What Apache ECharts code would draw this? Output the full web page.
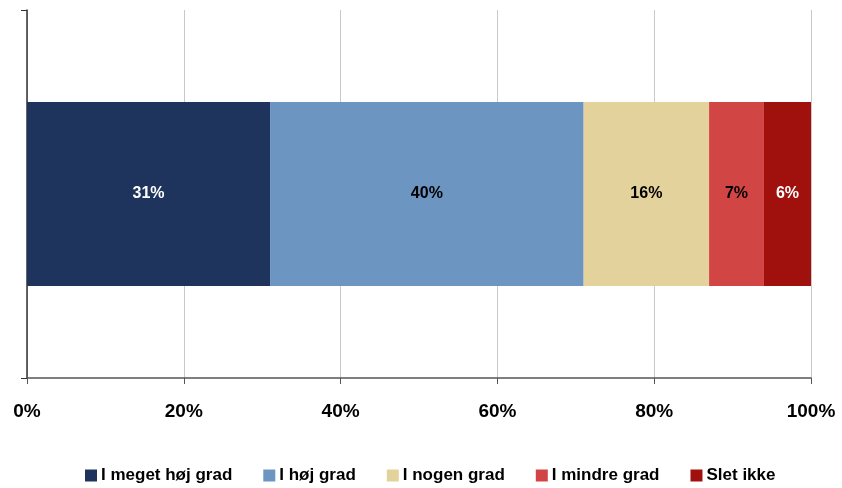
<!DOCTYPE html>
<html>
<head>
<meta charset="utf-8">
<script src="https://cdn.jsdelivr.net/npm/echarts@6/dist/echarts.min.js"></script>
<style>
  html, body { margin: 0; padding: 0; background: #fff; }
  #main { width: 842px; height: 488px; }
</style>
</head>
<body>
<div id="main"></div>
<script>
var myChart = echarts.init(document.getElementById("main"));

var seriesNames = ["I meget høj grad", "I høj grad", "I nogen grad", "I mindre grad", "Slet ikke"];
var values = [31, 40, 16, 7, 6];
var colors = ["#1F345D", "#6C95C1", "#E3D29B", "#D24545", "#A0100C"];
var labelColors = ["#fff", "#000", "#000", "#000", "#fff"];

var series = seriesNames.map(function (name, i) {
  return {
    name: name,
    type: "bar",
    stack: "total",
    barWidth: "50%",
    data: [values[i]],
    itemStyle: { color: colors[i] },
    label: {
      show: true,
      formatter: "{c}%",
      color: labelColors[i],
      fontFamily: "Liberation Sans",
      fontWeight: "bold",
      fontSize: 16
    }
  };
});

var option = {
  animation: false,
  grid: { left: 27, right: 31, top: 10, bottom: 110 },
  legend: {
    top: 462,
    left: 80,
    icon: "rect",
    itemWidth: 12,
    itemHeight: 12,
    itemGap: 31,
    textStyle: {
      fontFamily: "Liberation Sans",
      fontWeight: "bold",
      fontSize: 17,
      color: "#000",
      padding: [0, 0, 0, -1]
    },
    data: seriesNames
  },
  xAxis: {
    type: "value",
    min: 0,
    max: 100,
    interval: 20,
    axisLine: { show: true, lineStyle: { color: "#555", width: 1.5 } },
    axisTick: { show: true, length: 6, lineStyle: { color: "#555" } },
    splitLine: { show: true, lineStyle: { color: "#c8c8c8" } },
    axisLabel: {
      formatter: "{value}%",
      margin: 24,
      fontFamily: "Liberation Sans",
      fontWeight: "bold",
      fontSize: 19,
      color: "#000"
    }
  },
  yAxis: {
    type: "category",
    data: [""],
    axisLine: { show: true, lineStyle: { color: "#333", width: 1.5 } },
    axisTick: { show: true, length: 6, lineStyle: { color: "#333" } },
    axisLabel: { show: false }
  },
  series: series
};

myChart.setOption(option);
</script>
</body>
</html>
